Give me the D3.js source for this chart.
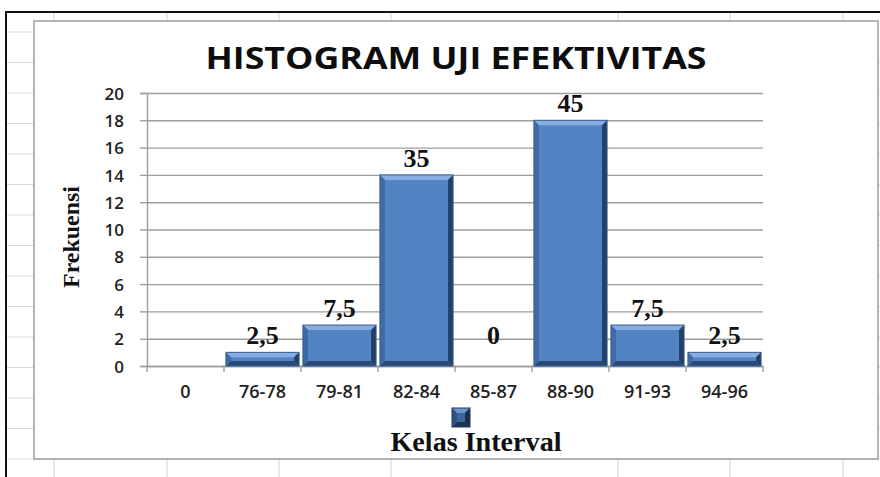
<!DOCTYPE html>
<html>
<head>
<meta charset="utf-8">
<script src="https://cdn.jsdelivr.net/npm/d3@7"></script>
<style>
  body { margin: 0; background: #fff; }
  svg { display: block; }
</style>
</head>
<body>
<svg id="chart" width="880" height="477"></svg>
<script>
// data
const categories = ["0", "76-78", "79-81", "82-84", "85-87", "88-90", "91-93", "94-96"];
const frekuensi = [0, 1, 3, 14, 0, 18, 3, 1];
const labelBar = ["", "2,5", "7,5", "35", "0", "45", "7,5", "2,5"];
const yTicks = [0, 2, 4, 6, 8, 10, 12, 14, 16, 18, 20];

const titleText = "HISTOGRAM UJI EFEKTIVITAS";
const yTitle = "Frekuensi";
const xTitle = "Kelas Interval";

let svg = d3.select("#chart");
const W = 880, H = 477;

// spreadsheet behind the chart
const sheet = svg.append("g");
const colX = [54, 167, 279, 391, 618, 730, 843];
sheet.selectAll(".row").data(d3.range(32, H, 30.5)).enter().append("line")
  .attr("x1", 6).attr("x2", W).attr("y1", d => d).attr("y2", d => d)
  .attr("stroke", "#dadada").attr("stroke-width", 1.2);
sheet.selectAll(".col").data(colX).enter().append("line")
  .attr("x1", d => d).attr("x2", d => d).attr("y1", 12).attr("y2", H)
  .attr("stroke", "#dadada").attr("stroke-width", 1.2);
sheet.append("path").attr("d", "M6," + H + "V12H" + W)
  .attr("fill", "none").attr("stroke", "#111").attr("stroke-width", 2);

// chart box
const box = {left: 34, top: 21, right: 878, bottom: 459};
svg.append("rect")
  .attr("x", box.left).attr("y", box.top)
  .attr("width", box.right - box.left).attr("height", box.bottom - box.top)
  .attr("fill", "#fff").attr("stroke", "#a3a3a3").attr("stroke-width", 1.6);

const plot = {left: 147, right: 763, top: 93, bottom: 366};

let x = d3.scaleBand().domain(categories)
  .range([plot.left, plot.right]).paddingInner(0.05).paddingOuter(0.025);
let y = d3.scaleLinear().domain([0, 20]).range([plot.bottom, plot.top]);

// gridlines
svg.append("g")
  .attr("transform", "translate(" + plot.left + ",0)")
  .call(d3.axisLeft(y).tickValues(yTicks).tickSize(-(plot.right - plot.left)).tickFormat(""))
  .call(g => g.select(".domain").remove())
  .selectAll("line").attr("stroke", "#9d9d9d").attr("stroke-width", 1.4);

// y axis
let yAxis = svg.append("g")
  .attr("transform", "translate(" + plot.left + ",0)")
  .call(d3.axisLeft(y).tickValues(yTicks).tickSize(7).tickPadding(16));
yAxis.select(".domain").attr("stroke", "#9d9d9d").attr("stroke-width", 1.4);
yAxis.selectAll("line").attr("stroke", "#9d9d9d").attr("stroke-width", 1.4);
yAxis.selectAll("text")
  .attr("font-family", "'Open Sans', sans-serif").attr("font-size", 17)
  .attr("font-weight", 600)
  .attr("fill", "#222").attr("dy", "0.36em");

// x axis: line, boundary ticks, category labels
let xAxis = svg.append("g")
  .attr("transform", "translate(0," + plot.bottom + ")")
  .call(d3.axisBottom(x).tickSize(0).tickPadding(19));
xAxis.select(".domain").attr("stroke", "#9d9d9d").attr("stroke-width", 1.4);
xAxis.selectAll("text")
  .attr("font-family", "'Open Sans', sans-serif").attr("font-size", 18)
  .attr("font-weight", 600)
  .attr("fill", "#222");
xAxis.selectAll(".bound").data(d3.range(categories.length + 1)).enter().append("line")
  .attr("x1", i => plot.left + i * x.step()).attr("x2", i => plot.left + i * x.step())
  .attr("y1", 0).attr("y2", 6)
  .attr("stroke", "#9d9d9d").attr("stroke-width", 1.4);

// bevelled bar like Excel
function bevel(g, bx, by, bw, bh, c) {
  let b = Math.min(5, bh / 2, bw / 2);
  g.append("rect").attr("x", bx).attr("y", by).attr("width", bw).attr("height", bh).attr("fill", c.base);
  let pts = [
    [[bx, by], [bx + bw, by], [bx + bw - b, by + b], [bx + b, by + b], c.top],
    [[bx, by + bh], [bx + bw, by + bh], [bx + bw - b, by + bh - b], [bx + b, by + bh - b], c.bottom],
    [[bx, by], [bx + b, by + b], [bx + b, by + bh - b], [bx, by + bh], c.left],
    [[bx + bw, by], [bx + bw - b, by + b], [bx + bw - b, by + bh - b], [bx + bw, by + bh], c.right]
  ];
  pts.forEach(p => {
    g.append("polygon").attr("points", p.slice(0, 4).map(q => q.join(",")).join(" ")).attr("fill", p[4]);
  });
  g.append("rect").attr("x", bx).attr("y", by).attr("width", bw).attr("height", bh)
    .attr("fill", "none").attr("stroke", c.edge).attr("stroke-width", 1);
}

const barColors = {base: "#5284c4", top: "#86aee2", bottom: "#2a4a75", left: "#3f6aa3", right: "#233f66", edge: "#3a5f90"};

let bars = svg.append("g");
categories.forEach((c, i) => {
  if (frekuensi[i] <= 0) return;
  bevel(bars, x(c), y(frekuensi[i]), x.bandwidth(), y(0) - y(frekuensi[i]), barColors);
});

// data labels
svg.append("g").selectAll("text").data(categories).enter().append("text")
  .attr("x", c => x(c) + x.bandwidth() / 2)
  .attr("y", (c, i) => y(Math.max(frekuensi[i], 1)) - 8)
  .attr("text-anchor", "middle")
  .attr("font-family", "'Liberation Serif', 'Times New Roman', serif")
  .attr("font-weight", "bold").attr("font-size", 26).attr("fill", "#111")
  .text((c, i) => labelBar[i]);

// title
svg.append("text")
  .attr("x", (box.left + box.right) / 2).attr("y", 69)
  .attr("text-anchor", "middle")
  .attr("font-family", "'Open Sans', sans-serif").attr("font-weight", "bold")
  .attr("font-size", 31).attr("fill", "#0d0d0d")
  .attr("textLength", 501).attr("lengthAdjust", "spacingAndGlyphs")
  .text(titleText);

// y title
svg.append("text")
  .attr("transform", "translate(79,237) rotate(-90)")
  .attr("text-anchor", "middle")
  .attr("font-family", "'Liberation Serif', 'Times New Roman', serif")
  .attr("font-weight", "bold").attr("font-size", 23).attr("fill", "#111")
  .attr("textLength", 102).attr("lengthAdjust", "spacingAndGlyphs")
  .text(yTitle);

// legend key + x title
let legend = svg.append("g");
bevel(legend, 452, 408, 18, 19,
  {base: "#3d659b", top: "#6f95c8", bottom: "#1c3354", left: "#2f5283", right: "#1a2f4d", edge: "#223c60"});
svg.append("text")
  .attr("x", 476).attr("y", 451)
  .attr("text-anchor", "middle")
  .attr("font-family", "'Liberation Serif', 'Times New Roman', serif")
  .attr("font-weight", "bold").attr("font-size", 28).attr("fill", "#111")
  .attr("textLength", 171).attr("lengthAdjust", "spacingAndGlyphs")
  .text(xTitle);
</script>
</body>
</html>
